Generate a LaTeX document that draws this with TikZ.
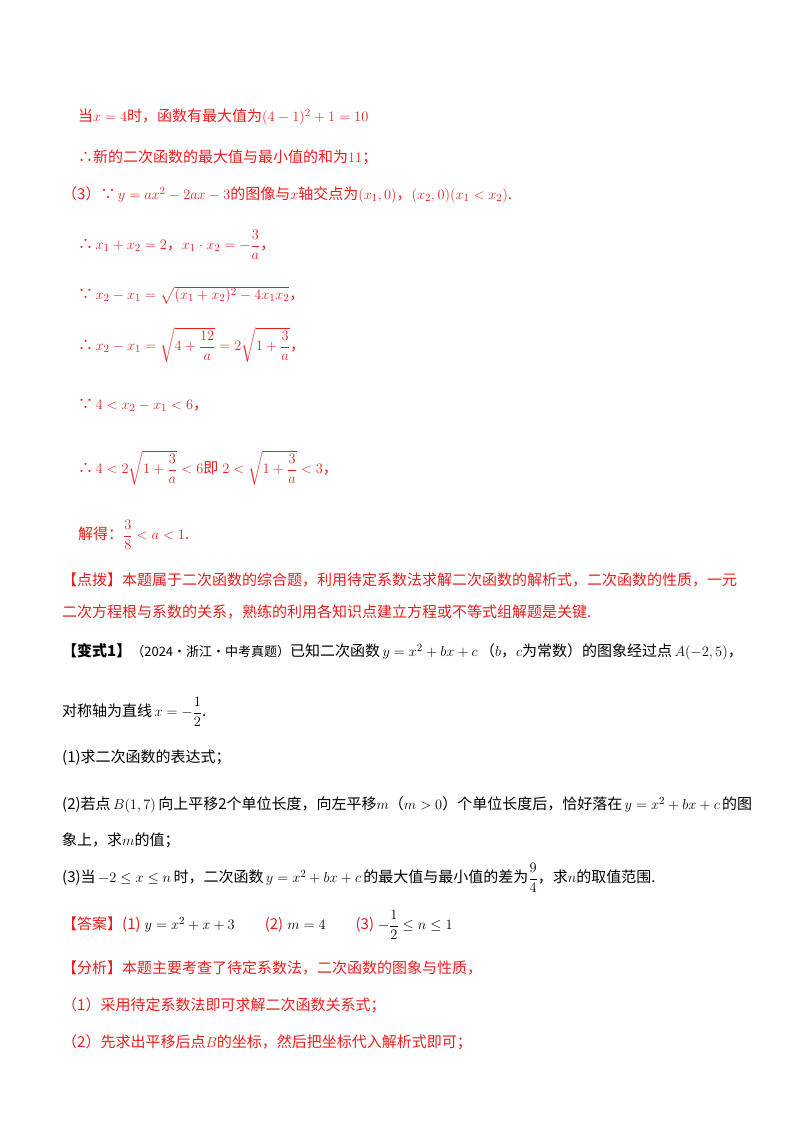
\documentclass[tikz,border=0pt]{standalone}
\usepackage{amsmath}
\usepackage{fontspec}
\setmainfont{Noto Sans CJK SC}
\definecolor{rd}{RGB}{235,30,30}
\begin{document}
\begin{tikzpicture}[x=1pt,y=-1pt,
  t/.style={anchor=west,inner sep=0pt,font=\fontsize{15}{17}\selectfont},
  r/.style={t,text=rd}]
\useasboundingbox[fill=white] (0,0) rectangle (800,1132);
\node[r] (l1) at (78,117) {当$x=4$时，函数有最大值为$(4-1)^2+1=10$};
\node[r] (l2) at (78,157) {∴新的二次函数的最大值与最小值的和为$11$；};
\node[r] (l3) at (62,195) {（3）∵$\,y=ax^2-2ax-3$的图像与$x$轴交点为$(x_1,0)$，$(x_2,0)(x_1<x_2)$.};
\node[r] (l4) at (78,245) {∴$\,x_1+x_2=2$，$x_1\cdot x_2=-\dfrac{3}{a}$，};
\node[r] (l5) at (78,295) {∵$\,x_2-x_1=\sqrt{(x_1+x_2)^2-4x_1x_2}$，};
\node[r] (l6) at (78,345) {∴$\,x_2-x_1=\sqrt{4+\dfrac{12}{a}}=2\sqrt{1+\dfrac{3}{a}}$，};
\node[r] (l7) at (78,405) {∵$\,4<x_2-x_1<6$，};
\node[r] (l8) at (78,468) {∴$\,4<2\sqrt{1+\dfrac{3}{a}}<6$即$\;2<\sqrt{1+\dfrac{3}{a}}<3$，};
\node[r] (l9) at (78,535) {解得：$\dfrac{3}{8}<a<1$.};
\node[r] (l10) at (62,580) {【点拨】本题属于二次函数的综合题，利用待定系数法求解二次函数的解析式，二次函数的性质，一元};
\node[r] (l11) at (62,612) {二次方程根与系数的关系，熟练的利用各知识点建立方程或不等式组解题是关键.};
\node[t] (l12) at (62,652) {\textbf{【变式1】}{\fontsize{13}{15}\selectfont（2024·浙江·中考真题）}已知二次函数$\,y=x^2+bx+c\,$（$b$，$c$为常数）的图象经过点$\,A(-2,5)$，};
\node[t] (l13) at (62,712) {对称轴为直线$\,x=-\dfrac{1}{2}$.};
\node[t] (l14) at (62,758) {(1)求二次函数的表达式；};
\node[t] (l15) at (62,805) {(2)若点$\,B(1,7)\,$向上平移2个单位长度，向左平移$m$（$m>0$）个单位长度后，恰好落在$\,y=x^2+bx+c\,$的图};
\node[t] (l16) at (62,840) {象上，求$m$的值；};
\node[t] (l17) at (62,878) {(3)当$\,-2\le x\le n\,$时，二次函数$\,y=x^2+bx+c\,$的最大值与最小值的差为$\dfrac{9}{4}$，求$n$的取值范围.};
\node[t] (l18) at (62,925) {{\color{rd}【答案】(1)}$\;y=x^2+x+3$\qquad{\color{rd}(2)}$\;m=4$\qquad{\color{rd}(3)}$\;-\dfrac{1}{2}\le n\le 1$};
\node[r] (l19) at (62,968) {【分析】本题主要考查了待定系数法，二次函数的图象与性质，};
\node[r] (l20) at (62,1005) {（1）采用待定系数法即可求解二次函数关系式；};
\node[r] (l21) at (62,1042) {（2）先求出平移后点$B$的坐标，然后把坐标代入解析式即可；};
\end{tikzpicture}
\end{document}
